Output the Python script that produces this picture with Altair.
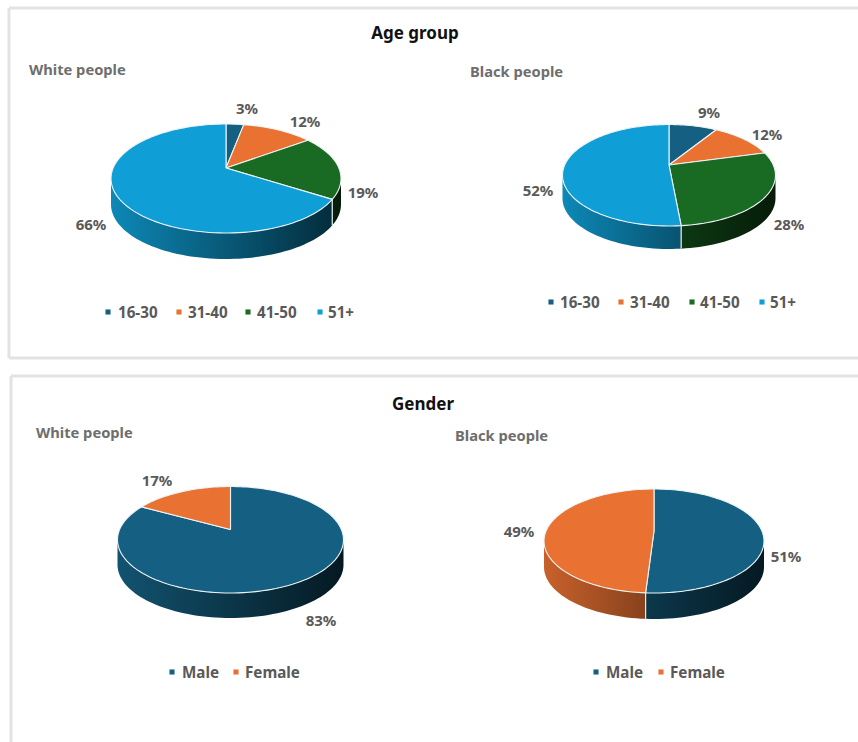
import math
import altair as alt
import pandas as pd

# Survey shares, in percent, in drawing order (clockwise from twelve o'clock)
age_groups = ["16-30", "31-40", "41-50", "51+"]
age_white = [3, 12, 19, 66]
age_black = [9, 12, 28, 52]
genders = ["Male", "Female"]
gender_white = [83, 17]
gender_black = [51, 49]

age_colors = ["#156082", "#E97132", "#196B24", "#0F9ED5"]
gender_colors = ["#156082", "#E97132"]

WIDTH, HEIGHT = 858, 742
FONT = "Noto Sans"
LABEL_GREY = "#595959"
SUB_GREY = "#6E6E6E"
FRAME = "#E3E3E3"

# Layout of each tilted pie: apex, far and near rim offsets, half width, wall depth
pies = [
    dict(values=age_white, colors=age_colors, cx=226, cy=168, up=44, down=65, half=115, depth=26,
         label_at=[(247, 108), (305, 121), (363, 192), (91, 224)]),
    dict(values=age_black, colors=age_colors, cx=669, cy=165, up=40.5, down=61, half=106.5, depth=23,
         label_at=[(709, 112), (767, 134), (789, 224), (538, 190)]),
    dict(values=gender_white, colors=gender_colors, cx=230.5, cy=529.5, up=43, down=63.5, half=113, depth=25,
         label_at=[(321, 620), (157, 480)]),
    dict(values=gender_black, colors=gender_colors, cx=654, cy=531, up=42, down=62, half=110, depth=26,
         label_at=[(786, 556), (519, 531)]),
]

headings = [("Age group", 415, 33), ("Gender", 423, 404)]
subtitles = [("White people", 29, 70), ("Black people", 470, 72),
             ("White people", 36, 433), ("Black people", 455, 436)]

legends = [
    dict(names=age_groups, colors=age_colors, y=312,
         marks=[108, 179, 248, 320], texts=[118, 188, 257, 328]),
    dict(names=age_groups, colors=age_colors, y=302,
         marks=[551, 621, 692, 762], texts=[560, 630, 700, 770]),
    dict(names=genders, colors=gender_colors, y=672, marks=[172, 236], texts=[182, 245]),
    dict(names=genders, colors=gender_colors, y=672, marks=[596, 661], texts=[606, 670]),
]

frame_rules = [
    dict(x=9, x2=9, y=8, y2=358), dict(x=9, x2=WIDTH, y=8, y2=8), dict(x=9, x2=WIDTH, y=358, y2=358),
    dict(x=11, x2=11, y=376, y2=HEIGHT), dict(x=11, x2=WIDTH, y=376, y2=376),
]

X = alt.X("x:Q", axis=None, scale=alt.Scale(domain=[0, WIDTH], nice=False, zero=False))
Y = alt.Y("y:Q", axis=None, scale=alt.Scale(domain=[HEIGHT, 0], nice=False, zero=False))


def shade(color, factor):
    channels = [int(color[i:i + 2], 16) for i in (1, 3, 5)]
    return "#" + "".join(f"{round(c * factor):02x}" for c in channels)


def projector(pie):
    # Perspective view of a flat disc: far points shrink towards the apex
    k = (pie["down"] - pie["up"]) / (pie["down"] + pie["up"])
    depth_scale = pie["up"] * (1 + k)
    width_scale = pie["half"] * math.sqrt(1 - k * k)

    def project(deg):
        t = math.radians(deg)
        w = 1 + k * math.cos(t)
        return (pie["cx"] + width_scale * math.sin(t) / w,
                pie["cy"] - depth_scale * math.cos(t) / w)

    turn = math.degrees(math.asin(k))
    return project, 90 + turn, 270 - turn


def sweep(start, end, per_degree=0.5):
    n = max(2, int((end - start) * per_degree) + 1)
    return [start + (end - start) * i / (n - 1) for i in range(n)]


def wall_factor(pie, x):
    frac = (x - (pie["cx"] - pie["half"])) / (2 * pie["half"])
    return 0.86 - 0.60 * min(1, max(0, frac))


def pie_layers(pie):
    project, vis_start, vis_end = projector(pie)
    total = sum(pie["values"])
    walls, seams, faces = [], [], []
    angle = 0.0
    for value, color in zip(pie["values"], pie["colors"]):
        start, end = angle, angle + 360 * value / total
        angle = end

        # Side wall, only where the slice faces the viewer
        lo, hi = max(start, vis_start), min(end, vis_end)
        if hi > lo:
            rows = []
            for deg in sweep(lo, hi):
                px, py = project(deg)
                rows.append({"x": px, "y": py, "y2": py + pie["depth"]})
            wall = pd.DataFrame(rows)
            gradient = alt.Gradient(
                gradient="linear", x1=0, x2=1, y1=0, y2=0,
                stops=[
                    alt.GradientStop(offset=0, color=shade(color, wall_factor(pie, wall.x.min()))),
                    alt.GradientStop(offset=1, color=shade(color, wall_factor(pie, wall.x.max()))),
                ],
            )
            walls.append(alt.Chart(wall).mark_area(color=gradient).encode(x=X, y=Y, y2="y2:Q"))

        # Thin light seam where two slices meet on the wall
        if vis_start < end < vis_end:
            px, py = project(end)
            seams.append(alt.Chart(pd.DataFrame([{"x": px, "y": py, "y2": py + pie["depth"]}]))
                         .mark_rule(color="#E8EEF0", strokeWidth=1.2)
                         .encode(x=X, y=Y, y2="y2:Q"))

        # Top face of the slice, closed through the apex
        outline = [(pie["cx"], pie["cy"])] + [project(d) for d in sweep(start, end)] + [(pie["cx"], pie["cy"])]
        face = pd.DataFrame({"x": [p[0] for p in outline], "y": [p[1] for p in outline],
                             "i": list(range(len(outline)))})
        faces.append(alt.Chart(face)
                     .mark_line(fill=color, stroke="#EEF3F4", strokeWidth=1.1, strokeJoin="round")
                     .encode(x=X, y=Y, order="i:Q"))

    labels = pd.DataFrame({"x": [p[0] for p in pie["label_at"]], "y": [p[1] + 1 for p in pie["label_at"]],
                           "t": [f"{v}%" for v in pie["values"]]})
    text = (alt.Chart(labels)
            .mark_text(font=FONT, fontSize=15, fontWeight="bold", color=LABEL_GREY, align="center", baseline="middle")
            .encode(x=X, y=Y, text="t:N"))
    return walls + seams + faces + [text]


layers = []

frames = alt.Chart(pd.DataFrame(frame_rules)).mark_rule(color=FRAME, strokeWidth=3).encode(x=X, x2="x2:Q", y=Y, y2="y2:Q")
layers.append(frames)

for pie in pies:
    layers.extend(pie_layers(pie))

heading_df = pd.DataFrame(headings, columns=["t", "x", "y"])
heading_df["y"] += 1
layers.append(alt.Chart(heading_df)
              .mark_text(font=FONT, fontSize=17, fontWeight="bold", color="#111111", align="center", baseline="middle")
              .encode(x=X, y=Y, text="t:N"))

subtitle_df = pd.DataFrame(subtitles, columns=["t", "x", "y"])
subtitle_df["y"] += 1
layers.append(alt.Chart(subtitle_df)
              .mark_text(font=FONT, fontSize=14.7, fontWeight="bold", color=SUB_GREY, align="left", baseline="middle")
              .encode(x=X, y=Y, text="t:N"))

for legend in legends:
    n = len(legend["names"])
    swatches = pd.DataFrame({"x": legend["marks"], "y": [legend["y"]] * n, "c": legend["colors"]})
    layers.append(alt.Chart(swatches).mark_square(size=26, opacity=1)
                  .encode(x=X, y=Y, color=alt.Color("c:N", scale=None)))
    names = pd.DataFrame({"x": legend["texts"], "y": [legend["y"] + 0.5] * n, "t": legend["names"]})
    layers.append(alt.Chart(names)
                  .mark_text(font=FONT, fontSize=15.2, fontWeight="bold", color=LABEL_GREY, align="left", baseline="middle")
                  .encode(x=X, y=Y, text="t:N"))

chart = (alt.layer(*layers)
         .properties(width=WIDTH, height=HEIGHT, padding=0, autosize=alt.AutoSizeParams(type="none"), background="white")
         .configure_view(stroke=None))

chart.save("out.html", embed_options={"renderer": "svg", "actions": False})
